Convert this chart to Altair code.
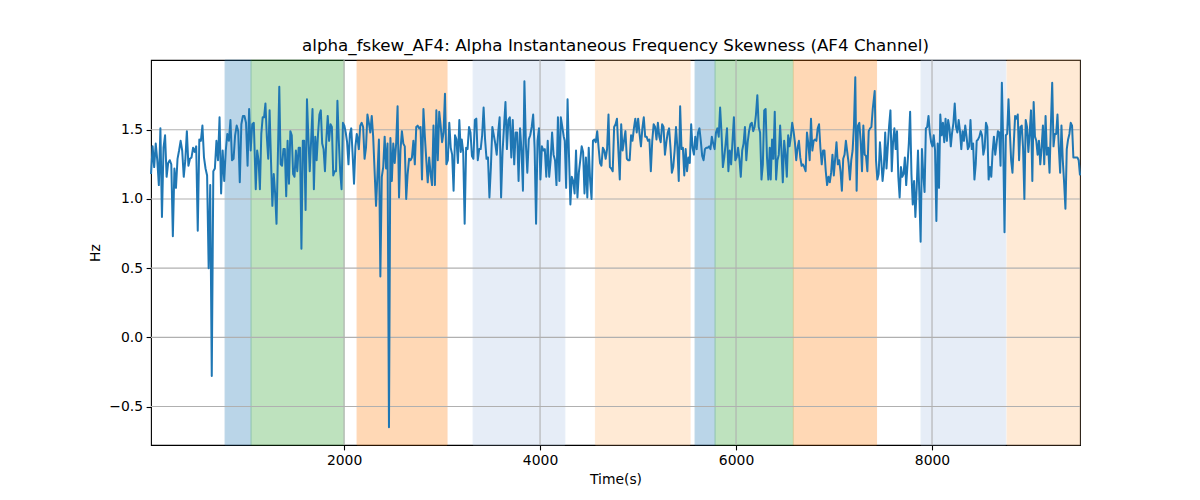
import altair as alt
import numpy as np
import pandas as pd

# ---- line series (Hz) ----
seg_windows = [(30.6, 1079), (1099, 2130), (2136, 3191), (3201, 4242), (4252, 5289),
               (5303, 6344), (6354, 7395), (7415, 8446), (8456, 9510)]

seg_a = [1.18,1.38,1.23,1.40,1.28,1.10,1.51,0.87,1.37,1.46,1.16,1.26,1.28,1.25,0.73,1.22,1.08,1.29,1.35,1.42,
         1.35,1.16,1.28,1.49,1.24,1.29,1.30,1.37,1.34,1.38,0.77,1.43,1.42,1.53,1.30,1.22,1.17,0.50,1.10,-0.28,
         1.20,1.22,1.42,1.28,1.59,1.04,1.35,1.13,1.35,1.47,1.42,1.57,1.28,1.29,1.46,1.53,1.49,1.12,1.54,1.60,
         1.60,1.55,1.24,1.65,1.35,1.54,1.55]
seg_b = [1.07,1.35,1.28,1.07,1.47,1.59,1.59,1.69,1.45,1.29,1.64,1.28,0.95,1.18,1.04,0.82,1.32,1.81,1.25,1.24,
         1.36,1.36,1.02,1.42,1.11,1.49,1.46,1.18,1.16,1.35,1.20,1.37,1.37,0.64,1.42,1.42,0.92,1.72,1.45,1.20,
         1.42,1.65,1.07,1.45,1.28,1.47,1.61,1.64,1.40,1.36,1.20,1.43,1.60,1.42,1.54,1.52,1.17,1.20,1.20,1.71,
         1.42,1.20,1.07,1.55,1.53,1.48,1.41,1.25,1.47,1.51,1.32,1.11,1.38,1.47]
seg_c = [1.45,1.36,1.53,1.55,1.52,1.29,1.37,1.61,1.55,1.48,1.60,1.45,1.20,0.95,1.18,1.43,0.44,1.16,1.23,1.45,
         1.22,1.40,-0.65,1.44,1.13,1.40,1.26,1.40,1.67,1.01,1.35,1.49,1.40,1.38,1.00,1.18,1.29,1.28,1.30,1.42,
         1.25,1.52,1.53,1.51,1.52,1.14,1.65,1.45,1.28,1.12,1.30,1.18,1.10,1.53,1.10,1.64,1.28,1.63,1.53,1.41,
         1.48,1.76,1.25,1.28,1.55,1.37,1.32,1.06,1.46,1.43,1.26,1.57,1.34]
seg_d = [1.43,1.34,0.82,1.37,1.36,1.52,1.48,1.31,1.29,1.57,1.58,1.28,1.36,1.36,1.46,1.66,1.43,1.29,1.30,1.01,
         1.23,1.52,1.46,1.40,1.32,1.48,1.59,1.01,1.34,1.52,1.70,1.36,1.57,1.59,1.30,1.57,1.25,1.48,1.48,1.13,
         1.51,1.35,1.06,1.85,1.40,1.19,1.43,1.46,1.52,1.61,1.37,0.82,1.42,1.51,1.14,1.38,1.35,1.36,1.16,1.42,
         1.16,1.28,1.48,1.32,1.28,1.10,1.59,1.13,1.59,1.52,1.45]
seg_e = [1.42,1.08,1.72,1.32,0.96,1.16,1.13,1.04,1.35,1.01,1.19,1.28,1.38,1.34,1.04,1.30,1.01,1.37,1.13,1.00,
         1.42,1.43,1.41,1.49,1.37,1.26,1.24,1.37,1.35,1.29,1.36,1.61,1.23,1.22,1.20,1.52,1.54,1.58,1.35,1.14,
         1.54,1.35,1.42,1.49,1.29,1.28,1.28,1.46,1.42,1.51,1.58,1.48,1.58,1.47,1.38,1.51,1.59,1.45,1.45,1.42,
         1.43,1.20,1.42,1.54,1.52,1.43,1.55,1.45,1.41,1.54,1.52,1.32,1.41]
seg_f = [1.48,1.51,1.37,1.19,1.23,1.35,1.52,1.37,1.13,1.67,1.36,1.37,1.17,1.36,1.20,1.30,1.26,1.54,1.37,1.32,
         1.45,1.36,1.48,1.51,1.42,1.31,1.28,1.36,1.37,1.37,1.38,1.36,1.45,1.40,1.36,1.48,1.51,1.45,1.66,1.48,
         1.23,1.30,1.40,1.51,1.20,1.35,1.25,1.42,1.59,1.28,1.30,1.37,1.29,1.16,1.35,1.40,1.52,1.28,1.41,1.49,
         1.54,1.55,1.49,1.52,1.61,1.75,1.52,1.48,1.14,1.25,1.64,1.65,1.30,1.14,1.37]
seg_g = [1.14,1.43,1.29,1.63,1.14,1.28,1.32,1.53,1.35,1.12,1.42,1.32,1.16,1.46,1.38,1.45,1.55,1.49,1.41,1.28,
         1.37,1.42,1.30,1.24,1.25,1.23,1.20,1.48,1.40,1.28,1.58,1.35,1.42,1.43,1.42,1.51,1.54,1.37,1.25,1.35,
         1.35,1.20,1.10,1.16,1.12,1.19,1.32,1.17,1.29,1.41,1.25,1.28,1.20,1.06,1.29,1.32,1.42,1.34,1.26,1.14,
         1.28,1.35,1.53,1.88,1.06,1.53,1.55,1.42,1.20,1.53,1.32,1.31,1.20,1.49,1.51,1.52,1.65]
seg_h = [1.78,1.28,1.14,1.18,1.41,1.28,1.13,1.23,1.48,1.22,1.38,1.53,1.64,1.20,1.41,1.51,1.36,1.49,1.16,1.01,
         1.23,1.16,1.18,1.30,1.10,1.25,1.40,1.63,1.18,0.96,1.13,0.87,1.08,1.35,1.04,0.69,1.36,1.18,1.05,1.51,
         1.52,1.60,1.48,1.41,1.38,1.46,1.35,0.84,1.40,1.08,1.61,1.46,1.55,1.41,1.58,1.42,1.57,1.51,1.38,1.48,
         1.55,1.69,1.52,1.48,1.57,1.49,1.36,1.49,1.42,1.53,1.45,1.36,1.38,1.57,1.36,1.40,1.14,1.25]
seg_i = [1.42,1.43,1.45,1.49,1.46,1.32,1.37,1.55,1.52,1.14,1.23,1.16,1.34,1.45,1.32,1.40,1.49,1.48,1.24,1.84,
         1.40,0.76,1.46,1.47,1.72,1.49,1.28,1.19,1.40,1.60,1.58,1.61,1.28,1.52,1.53,1.37,1.00,1.57,1.52,1.34,
         1.48,1.64,1.13,1.70,1.45,1.42,1.32,1.42,1.25,1.37,1.53,1.25,1.60,1.32,1.37,1.19,1.53,1.84,1.38,1.47,
         1.47,1.61,1.37,1.19,1.53,1.28,1.12,0.93,1.36,1.43,1.47,1.55,1.53,1.30,1.30,1.30,1.30,1.28,1.17]

# ---- shaded intervals ----
band_start = [786, 1051, 2133, 3317, 4565, 5582, 5786, 6585, 7888, 8766]
band_end = [1051, 2000, 3051, 4253, 5531, 5786, 6582, 7434, 8752, 9510]
band_kind = ["A", "B", "C", "D", "E", "A", "B", "C", "D", "E"]
kind_names = ["A", "B", "C", "D", "E"]
kind_colors = ["#1f77b4", "#2ca02c", "#ff7f0e", "#aec7e8", "#ffbb78"]

# ---- ticks ----
x_ticks = [2000, 4000, 6000, 8000]
y_ticks = [-0.5, 0.0, 0.5, 1.0, 1.5]

segments = [seg_a, seg_b, seg_c, seg_d, seg_e, seg_f, seg_g, seg_h, seg_i]
rows = []
for (t0, t1), vals in zip(seg_windows, segments):
    ts = np.linspace(t0, t1, len(vals))
    rows += [{"t": float(t), "v": float(v)} for t, v in zip(ts, vals)]
line_df = pd.DataFrame(rows)
band_df = pd.DataFrame({"start": band_start, "end": band_end, "kind": band_kind})
xg_df = pd.DataFrame({"g": x_ticks})
yg_df = pd.DataFrame({"g": y_ticks})

FONT = "DejaVu Sans"
x_scale = alt.Scale(domain=[30, 9510], nice=False, zero=False)
y_scale = alt.Scale(domain=[-0.778, 2.004], nice=False, zero=False)
common_axis = dict(grid=False, domain=False, tickSize=4.9, tickWidth=1.1, tickColor="black",
                   labelPadding=3.5, labelFontSize=13.9, titleFontSize=13.9, labelColor="black",
                   titleColor="black", titleFontWeight="normal", labelFont=FONT, titleFont=FONT)
x_axis = alt.Axis(values=x_ticks, format="d", title="Time(s)", titlePadding=5, **common_axis)
y_axis = alt.Axis(values=y_ticks, format=".1f", title="Hz", titlePadding=6, **common_axis)

kind_scale = alt.Scale(domain=kind_names, range=kind_colors)
bands = alt.Chart(band_df).mark_rect(opacity=0.3, strokeWidth=1).encode(
    x=alt.X("start:Q", scale=x_scale, axis=x_axis),
    x2="end:Q",
    color=alt.Color("kind:N", scale=kind_scale, legend=None),
    stroke=alt.Stroke("kind:N", scale=kind_scale, legend=None),
)
xgrid = alt.Chart(xg_df).mark_rule(color="#b0b0b0", strokeWidth=1.1).encode(
    x=alt.X("g:Q", scale=x_scale, axis=x_axis)
)
ygrid = alt.Chart(yg_df).mark_rule(color="#b0b0b0", strokeWidth=1.1).encode(
    y=alt.Y("g:Q", scale=y_scale, axis=y_axis)
)
line = alt.Chart(line_df).mark_line(color="#1f77b4", strokeWidth=2.0, strokeJoin="round").encode(
    x=alt.X("t:Q", scale=x_scale, axis=x_axis),
    y=alt.Y("v:Q", scale=y_scale, axis=y_axis),
)

chart = alt.layer(bands, xgrid, ygrid, line).properties(
    width=929,
    height=385,
    autosize=alt.AutoSizeParams(type="none"),
    padding={"left": 143, "top": 52, "right": 112, "bottom": 47},
    title=alt.TitleParams(
        text="alpha_fskew_AF4: Alpha Instantaneous Frequency Skewness (AF4 Channel)",
        fontSize=16.7, font=FONT, fontWeight="normal", anchor="middle",
        offset=8, dy=16, baseline="alphabetic", color="black",
    ),
).configure_view(stroke="black", strokeWidth=1.1)

chart.save("out.html", embed_options={"renderer": "svg", "actions": False})
